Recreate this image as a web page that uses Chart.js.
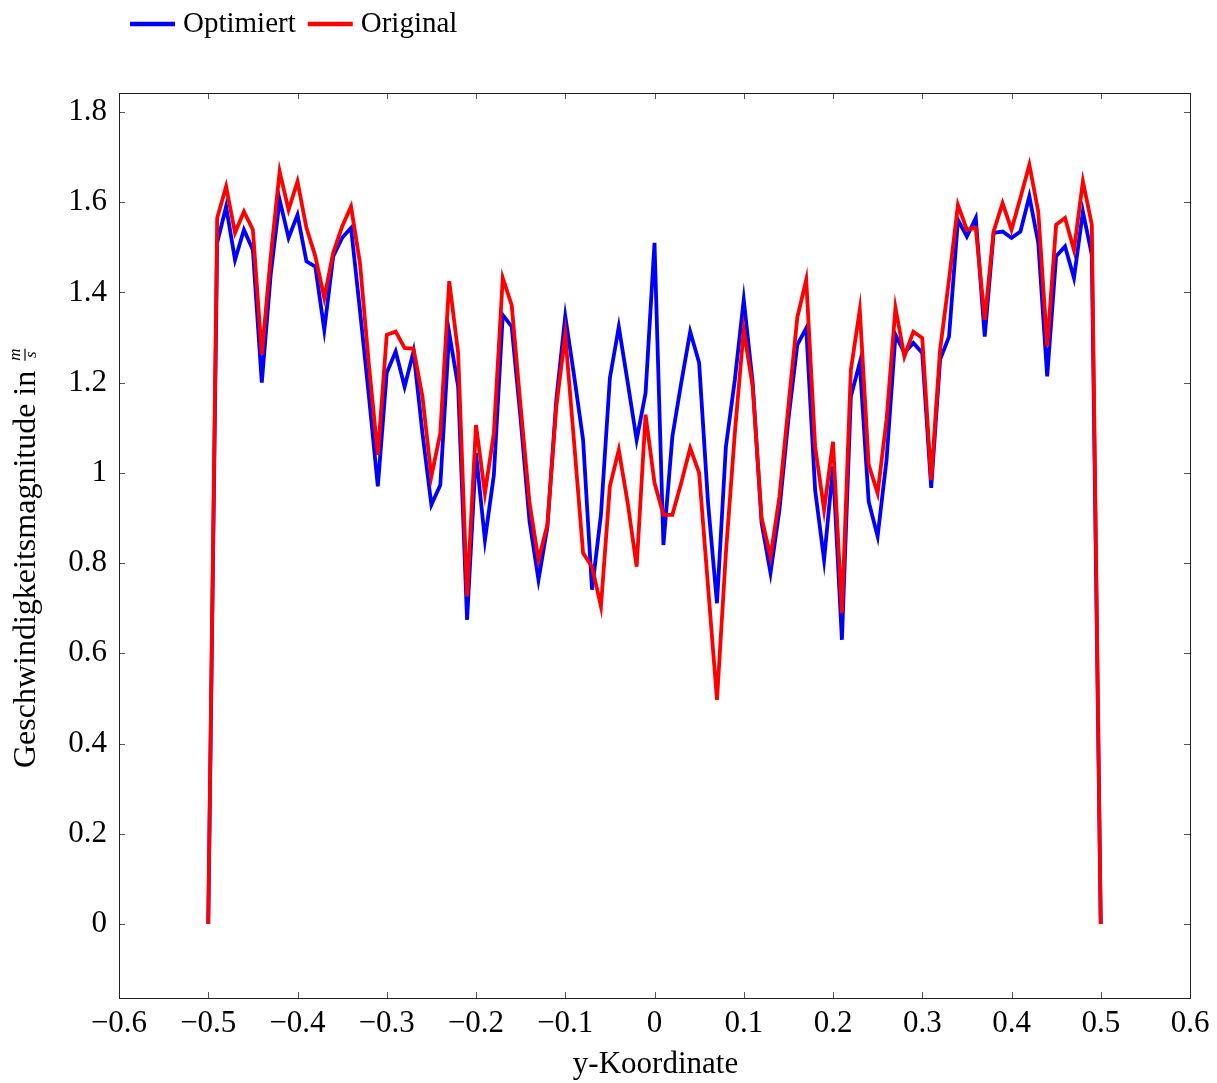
<!DOCTYPE html>
<html>
<head>
<meta charset="utf-8">
<script src="https://cdn.jsdelivr.net/npm/chart.js@4/dist/chart.umd.min.js"></script>
<style>
  html, body { margin: 0; padding: 0; background: #ffffff; }
  canvas { display: block; }
</style>
</head>
<body>
<canvas id="c" width="1217" height="1083"></canvas>
<script>
// ---- data ----
const X_COORD = [
  -0.50, -0.49, -0.48, -0.47, -0.46, -0.45, -0.44, -0.43, -0.42, -0.41,
  -0.40, -0.39, -0.38, -0.37, -0.36, -0.35, -0.34, -0.33, -0.32, -0.31,
  -0.30, -0.29, -0.28, -0.27, -0.26, -0.25, -0.24, -0.23, -0.22, -0.21,
  -0.20, -0.19, -0.18, -0.17, -0.16, -0.15, -0.14, -0.13, -0.12, -0.11,
  -0.10, -0.09, -0.08, -0.07, -0.06, -0.05, -0.04, -0.03, -0.02, -0.01,
   0.00,  0.01,  0.02,  0.03,  0.04,  0.05,  0.06,  0.07,  0.08,  0.09,
   0.10,  0.11,  0.12,  0.13,  0.14,  0.15,  0.16,  0.17,  0.18,  0.19,
   0.20,  0.21,  0.22,  0.23,  0.24,  0.25,  0.26,  0.27,  0.28,  0.29,
   0.30,  0.31,  0.32,  0.33,  0.34,  0.35,  0.36,  0.37,  0.38,  0.39,
   0.40,  0.41,  0.42,  0.43,  0.44,  0.45,  0.46,  0.47,  0.48,  0.49,
   0.50
];
const OPTIMIERT = [
  0.000, 1.510, 1.590, 1.472, 1.539, 1.494, 1.200, 1.440, 1.605, 1.521,
  1.572, 1.469, 1.457, 1.317, 1.480, 1.521, 1.543, 1.360, 1.170, 0.970,
  1.222, 1.269, 1.191, 1.269, 1.088, 0.929, 0.973, 1.310, 1.191, 0.674,
  1.044, 0.851, 0.995, 1.350, 1.324, 1.120, 0.892, 0.763, 0.880, 1.162,
  1.347, 1.214, 1.073, 0.741, 0.907, 1.210, 1.324, 1.200, 1.073, 1.177,
  1.510, 0.840, 1.080, 1.200, 1.313, 1.244, 0.933, 0.711, 1.058, 1.206,
  1.384, 1.200, 0.889, 0.778, 0.918, 1.118, 1.284, 1.321, 0.962, 0.807,
  1.014, 0.630, 1.169, 1.244, 0.936, 0.859, 1.029, 1.306, 1.266, 1.288,
  1.266, 0.967, 1.251, 1.302, 1.561, 1.524, 1.565, 1.302, 1.532, 1.535,
  1.521, 1.535, 1.613, 1.510, 1.214, 1.480, 1.502, 1.432, 1.579, 1.483,
  0.000
];
const ORIGINAL = [
  0.000, 1.565, 1.635, 1.532, 1.579, 1.539, 1.262, 1.480, 1.668, 1.583,
  1.646, 1.543, 1.480, 1.388, 1.488, 1.546, 1.590, 1.465, 1.240, 1.040,
  1.306, 1.313, 1.277, 1.275, 1.169, 0.992, 1.088, 1.425, 1.266, 0.726,
  1.106, 0.955, 1.088, 1.432, 1.372, 1.147, 0.933, 0.807, 0.885, 1.147,
  1.306, 1.066, 0.822, 0.792, 0.704, 0.970, 1.051, 0.933, 0.792, 1.129,
  0.978, 0.907, 0.907, 0.978, 1.055, 1.000, 0.748, 0.497, 0.822, 1.088,
  1.317, 1.191, 0.900, 0.814, 0.947, 1.147, 1.344, 1.428, 1.058, 0.918,
  1.069, 0.689, 1.228, 1.361, 1.018, 0.955, 1.118, 1.366, 1.258, 1.313,
  1.299, 0.984, 1.273, 1.428, 1.594, 1.539, 1.543, 1.339, 1.535, 1.598,
  1.539, 1.610, 1.683, 1.579, 1.280, 1.550, 1.565, 1.494, 1.646, 1.550,
  0.000
];
const X_TICKS = [-0.6, -0.5, -0.4, -0.3, -0.2, -0.1, 0, 0.1, 0.2, 0.3, 0.4, 0.5, 0.6];
const Y_TICKS = [0, 0.2, 0.4, 0.6, 0.8, 1, 1.2, 1.4, 1.6, 1.8];
const SERIES_NAMES = ['Optimiert', 'Original'];
const X_TITLE = 'y-Koordinate';
const Y_TITLE = 'Geschwindigkeitsmagnitude in';
const Y_UNIT_NUM = 'm';
const Y_UNIT_DEN = 's';

// ---- styling ----
const FONT = '"Liberation Serif", "DejaVu Serif", serif';
const BLUE = '#0000ff';
const RED = '#ff0000';

function fmt(v) {
  const s = String(Number(v.toFixed(2)));
  return s.replace('-', '\u2212');
}
function pts(ys) { return X_COORD.map((x, i) => ({ x: x, y: ys[i] })); }

const frame = {
  id: 'frame',
  afterDraw(chart) {
    const ctx = chart.ctx;
    const a = chart.chartArea;
    const xs = chart.scales.x, ys = chart.scales.y;
    ctx.save();
    // tick marks (inward, all four sides)
    ctx.strokeStyle = '#555';
    ctx.lineWidth = 1;
    ctx.beginPath();
    X_TICKS.forEach(v => {
      const px = Math.round(xs.getPixelForValue(v)) + 0.5;
      ctx.moveTo(px, a.bottom); ctx.lineTo(px, a.bottom - 6);
      ctx.moveTo(px, a.top); ctx.lineTo(px, a.top + 6);
    });
    Y_TICKS.forEach(v => {
      const py = Math.round(ys.getPixelForValue(v)) + 0.5;
      ctx.moveTo(a.left, py); ctx.lineTo(a.left + 6, py);
      ctx.moveTo(a.right, py); ctx.lineTo(a.right - 6, py);
    });
    ctx.stroke();
    // box
    ctx.strokeStyle = '#222';
    ctx.lineWidth = 1;
    ctx.strokeRect(Math.round(a.left) + 0.5, Math.round(a.top) + 0.5,
                   Math.round(a.right - a.left), Math.round(a.bottom - a.top));

    // legend
    ctx.font = '29px ' + FONT;
    ctx.textBaseline = 'alphabetic';
    ctx.textAlign = 'left';
    let x = 130;
    chart.data.datasets.forEach(ds => {
      ctx.strokeStyle = ds.borderColor;
      ctx.lineWidth = 4.5;
      ctx.beginPath();
      ctx.moveTo(x, 24); ctx.lineTo(x + 45, 24);
      ctx.stroke();
      x += 53;
      ctx.fillStyle = '#000';
      ctx.fillText(ds.label, x, 31.5);
      x += ctx.measureText(ds.label).width + 12;
    });

    // x-axis title
    ctx.font = '31px ' + FONT;
    ctx.textAlign = 'center';
    ctx.fillStyle = '#000';
    ctx.fillText(X_TITLE, (a.left + a.right) / 2 + 1, 1073);

    // y-axis title with fraction
    ctx.save();
    ctx.rotate(-Math.PI / 2);
    ctx.font = '32px ' + FONT;
    ctx.fillStyle = '#000';
    ctx.textAlign = 'left';
    const start = -768;
    ctx.fillText(Y_TITLE, start, 35);
    const mainW = ctx.measureText(Y_TITLE).width;
    const fracW = 12;
    const fx = start + mainW + 10 + fracW / 2;
    ctx.font = 'italic 17px ' + FONT;
    ctx.textAlign = 'center';
    ctx.fillText(Y_UNIT_NUM, fx, 19.5);
    ctx.fillText(Y_UNIT_DEN, fx, 36);
    ctx.strokeStyle = '#000';
    ctx.lineWidth = 1.2;
    ctx.beginPath();
    ctx.moveTo(fx - fracW / 2, 25); ctx.lineTo(fx + fracW / 2, 25);
    ctx.stroke();
    ctx.restore();

    ctx.restore();
  }
};

new Chart(document.getElementById('c'), {
  type: 'line',
  data: {
    datasets: [
      { label: SERIES_NAMES[0], data: pts(OPTIMIERT), borderColor: BLUE, backgroundColor: BLUE,
        borderWidth: 3.8, pointRadius: 0, tension: 0, fill: false, order: 1,
        borderJoinStyle: 'miter', borderCapStyle: 'butt' },
      { label: SERIES_NAMES[1], data: pts(ORIGINAL), borderColor: RED, backgroundColor: RED,
        borderWidth: 3.8, pointRadius: 0, tension: 0, fill: false, order: 0,
        borderJoinStyle: 'miter', borderCapStyle: 'butt' }
    ]
  },
  options: {
    responsive: false,
    animation: false,
    events: [],
    layout: { padding: { top: 93, right: 27, left: 0, bottom: 0 } },
    plugins: { legend: { display: false }, tooltip: { enabled: false } },
    scales: {
      x: {
        type: 'linear', min: -0.6, max: 0.6,
        grid: { display: false, drawTicks: false }, border: { display: false },
        afterBuildTicks: s => { s.ticks = X_TICKS.map(v => ({ value: v })); },
        afterFit: s => { s.height = 85; },
        ticks: { padding: 7, color: '#000', font: { family: FONT, size: 31 },
                 maxRotation: 0, autoSkip: false, callback: v => fmt(v) },
        title: { display: false }
      },
      y: {
        type: 'linear', min: -0.164, max: 1.842,
        grid: { display: false, drawTicks: false }, border: { display: false },
        afterBuildTicks: s => { s.ticks = Y_TICKS.map(v => ({ value: v })); },
        afterFit: s => { s.width = 119; },
        ticks: { padding: 12, color: '#000', font: { family: FONT, size: 31 },
                 autoSkip: false, callback: v => fmt(v) },
        title: { display: false }
      }
    }
  },
  plugins: [frame]
});
</script>
</body>
</html>
